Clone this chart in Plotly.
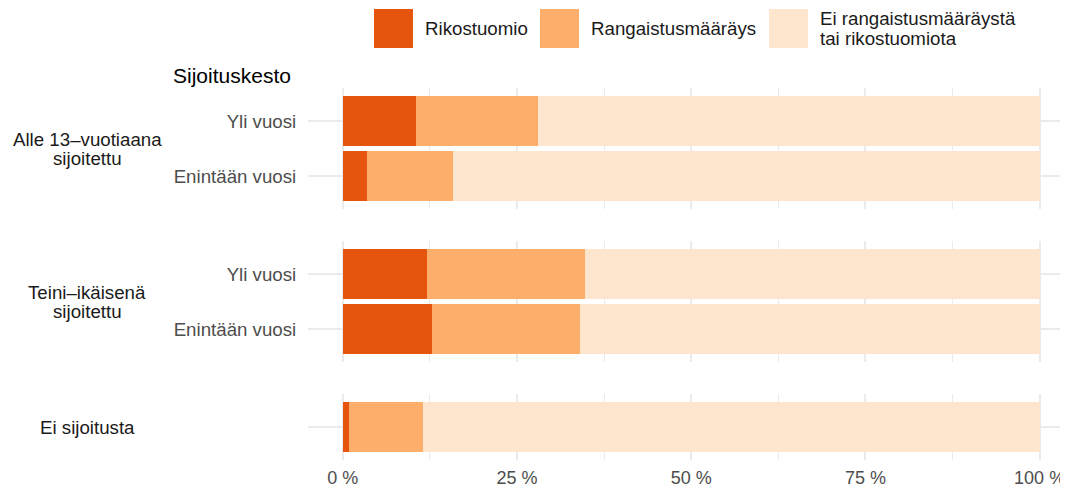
import plotly.graph_objects as go

# ---------------- data ----------------
series_names = ["Rikostuomio", "Rangaistusmääräys", "Ei rangaistusmääräystä tai rikostuomiota"]
series_colors = ["#E6550D", "#FDAE6B", "#FEE6CE"]
legend_lines = [["Rikostuomio"], ["Rangaistusmääräys"], ["Ei rangaistusmääräystä", "tai rikostuomiota"]]

group_labels = [["Alle 13–vuotiaana", "sijoitettu"], ["Teini–ikäisenä", "sijoitettu"], ["Ei sijoitusta"]]
bar_group = [0, 0, 1, 1, 2]
bar_duration = ["Yli vuosi", "Enintään vuosi", "Yli vuosi", "Enintään vuosi", "Ei sijoitusta"]
duration_order = ["Enintään vuosi", "Yli vuosi"]  # bottom -> top

rikostuomio = [10.5, 3.5, 12.1, 12.8, 0.9]
rangaistusmaarays = [17.5, 12.3, 22.7, 21.3, 10.6]
ei_kumpaakaan = [72.0, 84.2, 65.2, 65.9, 88.5]
series_values = [rikostuomio, rangaistusmaarays, ei_kumpaakaan]

x_tickvals = [0, 25, 50, 75, 100]
x_ticktext = ["0 %", "25 %", "50 %", "75 %", "100 %"]
x_minor = [12.5, 37.5, 62.5, 87.5]
y_title = "Sijoituskesto"

# ---------------- layout helpers ----------------
# page body has an 8px margin, so the figure is drawn 8px smaller and
# all target window-pixel positions are shifted by that offset
OFF = 8
W, H = 1068 - OFF, 488 - OFF
FONT = "Liberation Sans, Arial, Helvetica, sans-serif"
GRID = "#EBEBEB"
TXT = "#4D4D4D"
FS = 18.7

def px(x):
    return (x - OFF) / W

def py(y):
    return 1 - (y - OFF) / H

panel_px = [(88, 209), (241, 362), (394, 460)]  # top, bottom in window pixels
x_dom = [px(308), 1.0]
x_range = [-5, (1068 - 342.7) / 6.969]

fig = go.Figure()

for g in range(3):
    idx = [i for i, b in enumerate(bar_group) if b == g]
    sfx = "" if g == 0 else str(g + 1)
    for s in range(3):
        fig.add_trace(go.Bar(
            orientation="h",
            x=[series_values[s][i] for i in idx],
            y=[bar_duration[i] for i in idx],
            name=series_names[s],
            marker=dict(color=series_colors[s], line=dict(width=0)),
            showlegend=False,
            xaxis="x" + sfx, yaxis="y" + sfx,
            hovertemplate="%{y}: %{x:.1f} %<extra>" + series_names[s] + "</extra>",
        ))
    cats = [c for c in duration_order if c in [bar_duration[i] for i in idx]] or [bar_duration[i] for i in idx]
    top, bot = panel_px[g]
    yax = dict(
        domain=[py(bot), py(top)], anchor="x" + sfx,
        type="category", categoryorder="array", categoryarray=cats,
        range=[-0.6, len(cats) - 1 + 0.6],
        showgrid=True, gridcolor=GRID, gridwidth=1.8,
        zeroline=False, showline=False,
        ticks="outside", ticklen=7, tickcolor="rgba(0,0,0,0)",
        tickfont=dict(family=FONT, size=FS, color=TXT),
        showticklabels=(g < 2), automargin=False, fixedrange=True,
    )
    xax = dict(
        domain=x_dom, anchor="y" + sfx, range=x_range,
        tickvals=x_tickvals, ticktext=x_ticktext,
        showgrid=True, gridcolor=GRID, gridwidth=1.8,
        minor=dict(tickvals=x_minor, showgrid=True, gridcolor=GRID, gridwidth=1.0),
        zeroline=False, showline=False,
        ticks="outside", ticklen=1, tickcolor="rgba(0,0,0,0)",
        tickfont=dict(family=FONT, size=18, color=TXT),
        showticklabels=(g == 2), automargin=False, fixedrange=True,
    )
    if g > 0:
        xax["matches"] = "x"
    fig.update_layout(**{"yaxis" + sfx: yax, "xaxis" + sfx: xax})

annotations = []
shapes = []

# group (strip) labels on the left
for g, lines in enumerate(group_labels):
    top, bot = panel_px[g]
    c = (top + bot) / 2
    n = len(lines)
    for k, line in enumerate(lines):
        yy = c + (k - (n - 1) / 2) * 19
        annotations.append(dict(
            x=px(87), y=py(yy), xref="paper", yref="paper", text=line,
            showarrow=False, xanchor="center", yanchor="middle",
            font=dict(family=FONT, size=FS, color="#1A1A1A"),
        ))

# y-axis title
annotations.append(dict(
    x=px(171), y=py(76), xref="paper", yref="paper", text=y_title,
    showarrow=False, xanchor="left", yanchor="middle",
    font=dict(family=FONT, size=21, color="#000000"),
))

# legend
key_x = [374, 540, 769]
for s in range(3):
    x0 = key_x[s]
    shapes.append(dict(
        type="rect", xref="paper", yref="paper",
        x0=px(x0), x1=px(x0 + 39), y0=py(48), y1=py(9),
        fillcolor=series_colors[s], line=dict(width=0), layer="above",
    ))
    lines = legend_lines[s]
    n = len(lines)
    for k, line in enumerate(lines):
        yy = 28.5 + (k - (n - 1) / 2) * 20
        annotations.append(dict(
            x=px(x0 + 39 + 10), y=py(yy), xref="paper", yref="paper", text=line,
            showarrow=False, xanchor="left", yanchor="middle",
            font=dict(family=FONT, size=FS, color="#1A1A1A"),
        ))

fig.update_layout(
    width=W, height=H,
    margin=dict(l=0, r=0, t=0, b=0),
    paper_bgcolor="white", plot_bgcolor="white",
    barmode="stack", bargap=0.1,
    showlegend=False,
    annotations=annotations, shapes=shapes,
    font=dict(family=FONT),
)

fig.write_html("out.html")
